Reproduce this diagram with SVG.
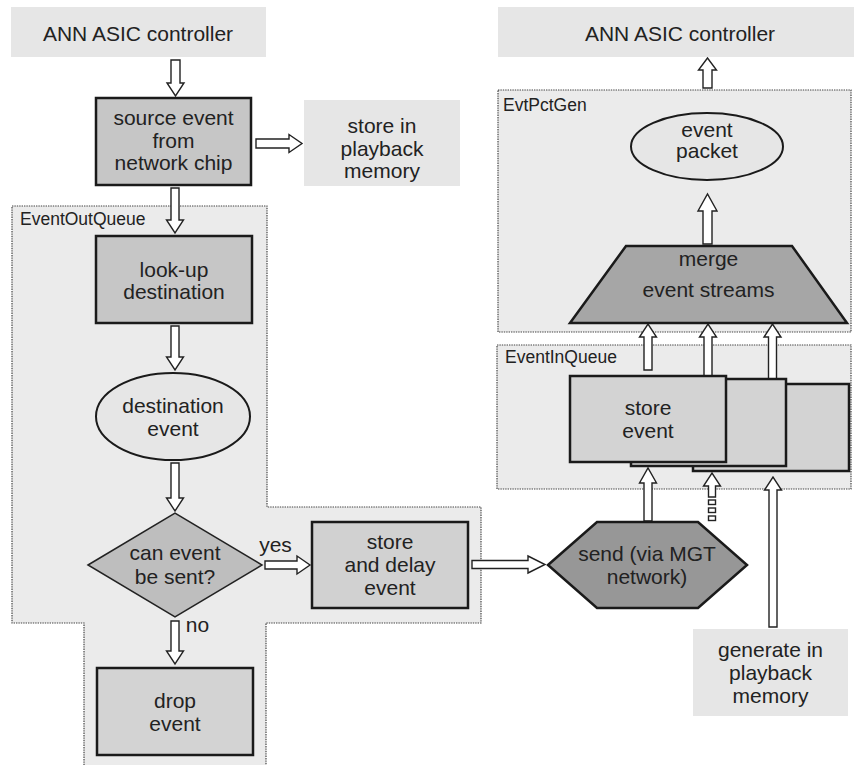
<svg xmlns="http://www.w3.org/2000/svg" width="854" height="765" viewBox="0 0 854 765">
  <style>
    text { font-family: "Liberation Sans", Arial, sans-serif; fill: #222; }
    .t { font-size: 21px; text-anchor: middle; }
    .lbl { font-size: 17.5px; }
    .zone { fill: #ebebeb; stroke: #444; stroke-width: 1.2; stroke-dasharray: 1.4 1; }
    .plain { fill: #e6e6e6; stroke: none; }
    .box { stroke: #1a1a1a; stroke-width: 2.5; }
    .arr { fill: #fff; stroke: #222; stroke-width: 1.4; stroke-linejoin: miter; }
  </style>

  <!-- containers -->
  <g id="EventOutQueue">
    <path class="zone" d="M84,770 V623 H12 V206 H267 V507 H481 V623 H266 V770"/>
    <text class="lbl" x="20" y="225">EventOutQueue</text>
  </g>
  <g id="EvtPctGen">
    <rect class="zone" x="498" y="90" width="353" height="242"/>
    <text class="lbl" x="503" y="111">EvtPctGen</text>
  </g>
  <g id="EventInQueue">
    <rect class="zone" x="497" y="345" width="354" height="144"/>
    <text class="lbl" x="505" y="363">EventInQueue</text>
  </g>

  <!-- connectors (hollow block arrows) -->
  <g id="connectors">
    <!-- down arrows, left column -->
    <path class="arr" d="M171,60 H180 V83 H184 L175.5,96 L167,83 H171 Z"/>
    <path class="arr" d="M171,188 H179 V220 H183.5 L175,233 L166.5,220 H171 Z"/>
    <path class="arr" d="M171,326 H179 V357 H183.5 L175,370 L166.5,357 H171 Z"/>
    <path class="arr" d="M171,463 H179 V498 H183.5 L175,511 L166.5,498 H171 Z"/>
    <path class="arr" d="M171,621 H179 V651 H183.5 L175,664 L166.5,651 H171 Z"/>
    <!-- right arrows -->
    <path class="arr" d="M256,139 H289 V134.5 L302,143.5 L289,152.5 V148 H256 Z"/>
    <path class="arr" d="M265,561 H297 V556 L310,565 L297,574 V569 H265 Z"/>
    <path class="arr" d="M472,560.5 H528 V556 L545,564.5 L528,573 V568.5 H472 Z"/>
    <!-- up arrows, right column -->
    <path class="arr" d="M703,88 H712 V70 H716.5 L707.5,58 L698.5,70 H703 Z"/>
    <path class="arr" d="M703,244 H712 V211 H717 L707.5,194 L698,211 H703 Z"/>
    <path class="arr" d="M644,370 H652 V337 H656.5 L648,324 L639.5,337 H644 Z"/>
    <path class="arr" d="M704,376 H712 V337 H716.5 L708,324 L699.5,337 H704 Z"/>
    <path class="arr" d="M768.5,379 H776.5 V337 H781 L772.5,324 L764,337 H768.5 Z"/>
    <path class="arr" d="M644,521 H652 V483 H656.5 L648,468 L639.5,483 H644 Z"/>
    <path class="arr" d="M769,627 H777 V490 H781.5 L773,477 L764.5,490 H769 Z"/>
    <!-- broken stream -->
    <path class="arr" d="M708.5,497 H715.5 V486 H720.5 L712,473 L703.5,486 H708.5 Z"/>
    <rect class="arr" x="708.5" y="500" width="7" height="4.5"/>
    <rect class="arr" x="708.5" y="508" width="7" height="4.5"/>
    <rect class="arr" x="708.5" y="516" width="7" height="4.5"/>
  </g>

  <!-- nodes -->
  <g id="ann-controller-in">
    <rect class="plain" x="11" y="7" width="255" height="50"/>
    <text class="t" x="138" y="40.5">ANN ASIC controller</text>
  </g>
  <g id="source-event">
    <rect class="box" x="96" y="98" width="155" height="87" fill="#c6c6c6"/>
    <text class="t" x="173.5" y="125">source event</text>
    <text class="t" x="173.5" y="147.5">from</text>
    <text class="t" x="173.5" y="170">network chip</text>
  </g>
  <g id="store-playback">
    <rect class="plain" x="304" y="100" width="156" height="86"/>
    <text class="t" x="382" y="133">store in</text>
    <text class="t" x="382" y="155.5">playback</text>
    <text class="t" x="382" y="178">memory</text>
  </g>
  <g id="lookup-destination">
    <rect class="box" x="96" y="236" width="156" height="87" fill="#c6c6c6"/>
    <text class="t" x="174" y="276.5">look-up</text>
    <text class="t" x="174" y="299">destination</text>
  </g>
  <g id="destination-event">
    <ellipse cx="173" cy="416.5" rx="77" ry="43.5" fill="#e6e6e6" stroke="#1a1a1a" stroke-width="2"/>
    <text class="t" x="173" y="413">destination</text>
    <text class="t" x="173" y="436">event</text>
  </g>
  <g id="can-event-be-sent">
    <polygon points="88,565 175,513 262,565 175,617" fill="#bebebe" stroke="#222" stroke-width="1.5"/>
    <text class="t" x="175" y="560">can event</text>
    <text class="t" x="175" y="583.5">be sent?</text>
    <text class="t" x="275.5" y="552">yes</text>
    <text class="t" x="197.5" y="632">no</text>
  </g>
  <g id="store-delay">
    <rect class="box" x="312" y="522" width="156" height="86" fill="#d1d1d1"/>
    <text class="t" x="390" y="548.5">store</text>
    <text class="t" x="390" y="571.5">and delay</text>
    <text class="t" x="390" y="594.5">event</text>
  </g>
  <g id="drop-event">
    <rect class="box" x="97" y="668" width="156" height="87" fill="#d3d3d3"/>
    <text class="t" x="175" y="708">drop</text>
    <text class="t" x="175" y="730.5">event</text>
  </g>
  <g id="send-mgt">
    <polygon points="548,565 597,522 698,522 747,565 698,608 597,608" fill="#979797" stroke="#1a1a1a" stroke-width="2.5"/>
    <text class="t" x="647" y="561">send (via MGT</text>
    <text class="t" x="647" y="584">network)</text>
  </g>
  <g id="generate-playback">
    <rect class="plain" x="693" y="629" width="155" height="87"/>
    <text class="t" x="770.5" y="656.5">generate in</text>
    <text class="t" x="770.5" y="679.5">playback</text>
    <text class="t" x="770.5" y="702.5">memory</text>
  </g>
  <g id="store-event">
    <rect class="box" x="693" y="384" width="156" height="87" fill="#d3d3d3"/>
    <rect class="box" x="631" y="379" width="155" height="87" fill="#d3d3d3"/>
    <rect class="box" x="570" y="376" width="156" height="86" fill="#d3d3d3"/>
    <text class="t" x="648" y="415">store</text>
    <text class="t" x="648" y="438">event</text>
  </g>
  <g id="merge-streams">
    <polygon points="626,246 792,246 847,323 570,323" fill="#a6a6a6" stroke="#1a1a1a" stroke-width="2.5"/>
    <text class="t" x="708.5" y="266">merge</text>
    <text class="t" x="708.5" y="297">event streams</text>
  </g>
  <g id="event-packet">
    <ellipse cx="707" cy="146.5" rx="76" ry="33.5" fill="#e6e6e6" stroke="#1a1a1a" stroke-width="2"/>
    <text class="t" x="707" y="137">event</text>
    <text class="t" x="707" y="158">packet</text>
  </g>
  <g id="ann-controller-out">
    <rect class="plain" x="498" y="7" width="356" height="50"/>
    <text class="t" x="680" y="40.5">ANN ASIC controller</text>
  </g>
</svg>
